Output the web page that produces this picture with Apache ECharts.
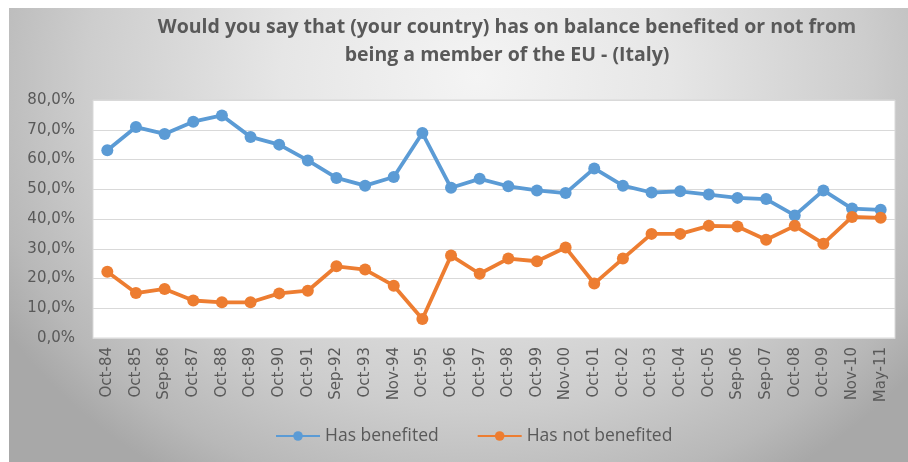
<!DOCTYPE html>
<html>
<head>
<meta charset="utf-8">
<script src="https://cdn.jsdelivr.net/npm/echarts@6/dist/echarts.min.js"></script>
<style>
html,body{margin:0;padding:0;background:#fff;width:908px;height:462px;overflow:hidden;}
#bg{position:absolute;left:9px;top:8px;width:899px;height:454px;
background:radial-gradient(ellipse 62% 105% at 52% 15%, #f4f4f4 0%, #e6e6e6 35%, #cdcdcd 70%, #b8b8b8 90%, #a8a8a8 100%);}
#main{position:absolute;left:0;top:0;width:908px;height:462px;}
</style>
</head>
<body>
<div id="bg"></div>
<div id="main"></div>
<script>
const categories = ['Oct-84','Oct-85','Sep-86','Oct-87','Oct-88','Oct-89','Oct-90','Oct-91','Sep-92','Oct-93','Nov-94','Oct-95','Oct-96','Oct-97','Oct-98','Oct-99','Nov-00','Oct-01','Oct-02','Oct-03','Oct-04','Oct-05','Sep-06','Sep-07','Oct-08','Oct-09','Nov-10','May-11'];
const hasBenefited = [63.1,70.9,68.6,72.7,74.8,67.6,65.0,59.7,53.8,51.2,54.1,68.9,50.5,53.5,51.0,49.6,48.7,57.0,51.2,48.9,49.3,48.2,47.1,46.7,41.2,49.6,43.5,43.1];
const hasNotBenefited = [22.3,15.1,16.5,12.6,12.0,12.0,15.0,15.9,24.1,23.0,17.6,6.4,27.7,21.6,26.7,25.8,30.4,18.3,26.7,35.0,35.0,37.7,37.5,33.0,37.7,31.7,40.7,40.4];
const yTicks = [0,10,20,30,40,50,60,70,80];
const titleText = 'Would you say that (your country) has on balance benefited or not from\nbeing a member of the EU - (Italy)';

const chart = echarts.init(document.getElementById('main'), null, {renderer:'canvas'});
const grey = '#595959';
chart.setOption({
  backgroundColor: 'transparent',
  animation: false,
  title: {
    text: titleText,
    left: 502, top: 8,
    textAlign: 'center',
    textStyle: {fontFamily: 'Open Sans', fontWeight: 'bold', fontSize: 19.5, color: grey, lineHeight: 28}
  },
  legend: {
    bottom: 12, left: 270,
    itemWidth: 44, itemHeight: 12, itemGap: 38,
    textStyle: {fontFamily: 'Open Sans', fontSize: 17.5, color: grey},
    data: ['Has benefited','Has not benefited']
  },
  grid: {left: 93, right: 13, top: 100, bottom: 124, show: true, backgroundColor: '#ffffff', borderColor: '#d9d9d9', borderWidth: 1},
  xAxis: {
    type: 'category', data: categories, boundaryGap: true,
    axisTick: {show: false},
    axisLine: {lineStyle: {color: '#d9d9d9'}},
    axisLabel: {rotate: 90, interval: 0, margin: 9, fontFamily: 'DejaVu Sans', fontSize: 15, color: grey}
  },
  yAxis: {
    type: 'value', min: yTicks[0], max: yTicks[yTicks.length-1], interval: 10,
    axisLine: {show: false}, axisTick: {show: false},
    splitLine: {lineStyle: {color: '#d9d9d9', width: 1}},
    axisLabel: {margin: 18, fontFamily: 'DejaVu Sans', fontSize: 15, color: grey,
      formatter: v => v.toFixed(1).replace('.', ',') + '%'}
  },
  series: [
    {name: 'Has benefited', type: 'line', data: hasBenefited, symbol: 'circle', symbolSize: 12,
     lineStyle: {width: 3.8, color: '#5B9BD5'}, itemStyle: {color: '#5B9BD5'}},
    {name: 'Has not benefited', type: 'line', data: hasNotBenefited, symbol: 'circle', symbolSize: 12,
     lineStyle: {width: 3.8, color: '#ED7D31'}, itemStyle: {color: '#ED7D31'}}
  ]
});
</script>
</body>
</html>
